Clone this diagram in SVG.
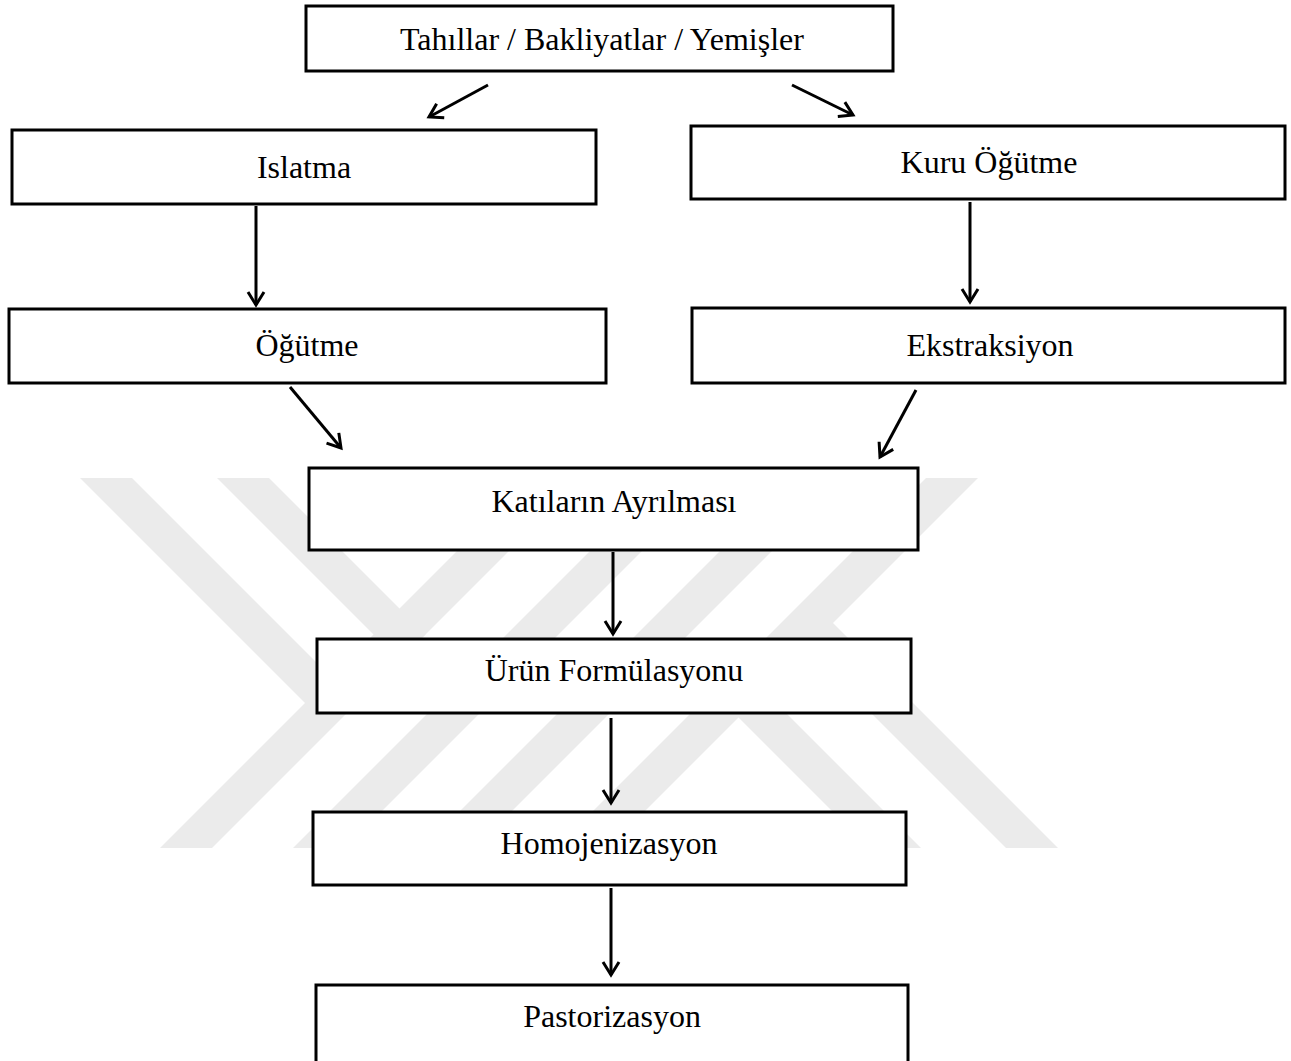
<svg xmlns="http://www.w3.org/2000/svg" width="1291" height="1061" viewBox="0 0 1291 1061">
  <style>
    .wm { fill: #ebebeb; stroke: none; }
    .box { fill: #ffffff; stroke: #000000; stroke-width: 3; }
    .lbl { font-family: "Liberation Serif", "Times New Roman", serif; font-size: 32px; fill: #000000; text-anchor: middle; }
    .edge { fill: none; stroke: #000000; stroke-width: 3; marker-end: url(#ah); }
  </style>
  <defs>
    <!-- open V arrowhead, tip at the end point of the line -->
    <marker id="ah" markerUnits="userSpaceOnUse" viewBox="-16 -10 20 20" markerWidth="20" markerHeight="20" refX="0" refY="0" orient="auto">
      <path d="M-13,-8 L0,0 L-13,8" fill="none" stroke="#000000" stroke-width="3" stroke-linejoin="miter"/>
    </marker>
  </defs>

  <rect x="0" y="0" width="1291" height="1061" fill="#ffffff"/>

  <!-- faint emblem in the background -->
  <g id="emblem">
    <polygon class="wm" points="160,848 212,848 582,478 530,478"/>
    <polygon class="wm" points="293,848 345,848 715,478 663,478"/>
    <polygon class="wm" points="423,848 475,848 845,478 793,478"/>
    <polygon class="wm" points="556,848 608,848 978,478 926,478"/>
    <polygon class="wm" points="80,478 132,478 357,703 305,703"/>
    <polygon class="wm" points="217,478 269,478 425.5,634.5 399.5,660.5"/>
    <polygon class="wm" points="1058,848 1006,848 781,623 833,623"/>
    <polygon class="wm" points="921,848 869,848 712.5,691.5 738.5,665.5"/>
  </g>

  <!-- process steps -->
  <g id="node-kaynak">
    <rect class="box" x="306" y="6" width="587" height="65"/>
    <text class="lbl" x="602" y="50">Tahıllar / Bakliyatlar / Yemişler</text>
  </g>
  <g id="node-islatma">
    <rect class="box" x="12" y="130" width="584" height="74"/>
    <text class="lbl" x="304" y="178">Islatma</text>
  </g>
  <g id="node-kuru-ogutme">
    <rect class="box" x="691" y="126" width="594" height="73"/>
    <text class="lbl" x="989" y="173">Kuru Öğütme</text>
  </g>
  <g id="node-ogutme">
    <rect class="box" x="9" y="309" width="597" height="74"/>
    <text class="lbl" x="307" y="356">Öğütme</text>
  </g>
  <g id="node-ekstraksiyon">
    <rect class="box" x="692" y="308" width="593" height="75"/>
    <text class="lbl" x="990" y="356">Ekstraksiyon</text>
  </g>
  <g id="node-katilar">
    <rect class="box" x="309" y="468" width="609" height="82"/>
    <text class="lbl" x="614" y="512">Katıların Ayrılması</text>
  </g>
  <g id="node-formulasyon">
    <rect class="box" x="317" y="639" width="594" height="74"/>
    <text class="lbl" x="614" y="681">Ürün Formülasyonu</text>
  </g>
  <g id="node-homojenizasyon">
    <rect class="box" x="313" y="812" width="593" height="73"/>
    <text class="lbl" x="609" y="854">Homojenizasyon</text>
  </g>
  <g id="node-pastorizasyon">
    <rect class="box" x="316" y="985" width="592" height="100"/>
    <text class="lbl" x="612" y="1027">Pastorizasyon</text>
  </g>

  <!-- connectors -->
  <g id="connectors">
    <line class="edge" x1="488" y1="85" x2="429" y2="117"/>
    <line class="edge" x1="792" y1="85" x2="853" y2="115"/>
    <line class="edge" x1="256" y1="206" x2="256" y2="305"/>
    <line class="edge" x1="970" y1="202" x2="970" y2="302"/>
    <line class="edge" x1="290" y1="387" x2="341" y2="448"/>
    <line class="edge" x1="916" y1="390" x2="880" y2="457"/>
    <line class="edge" x1="613" y1="552" x2="613" y2="634"/>
    <line class="edge" x1="611" y1="718" x2="611" y2="803"/>
    <line class="edge" x1="611" y1="888" x2="611" y2="975"/>
  </g>
</svg>
